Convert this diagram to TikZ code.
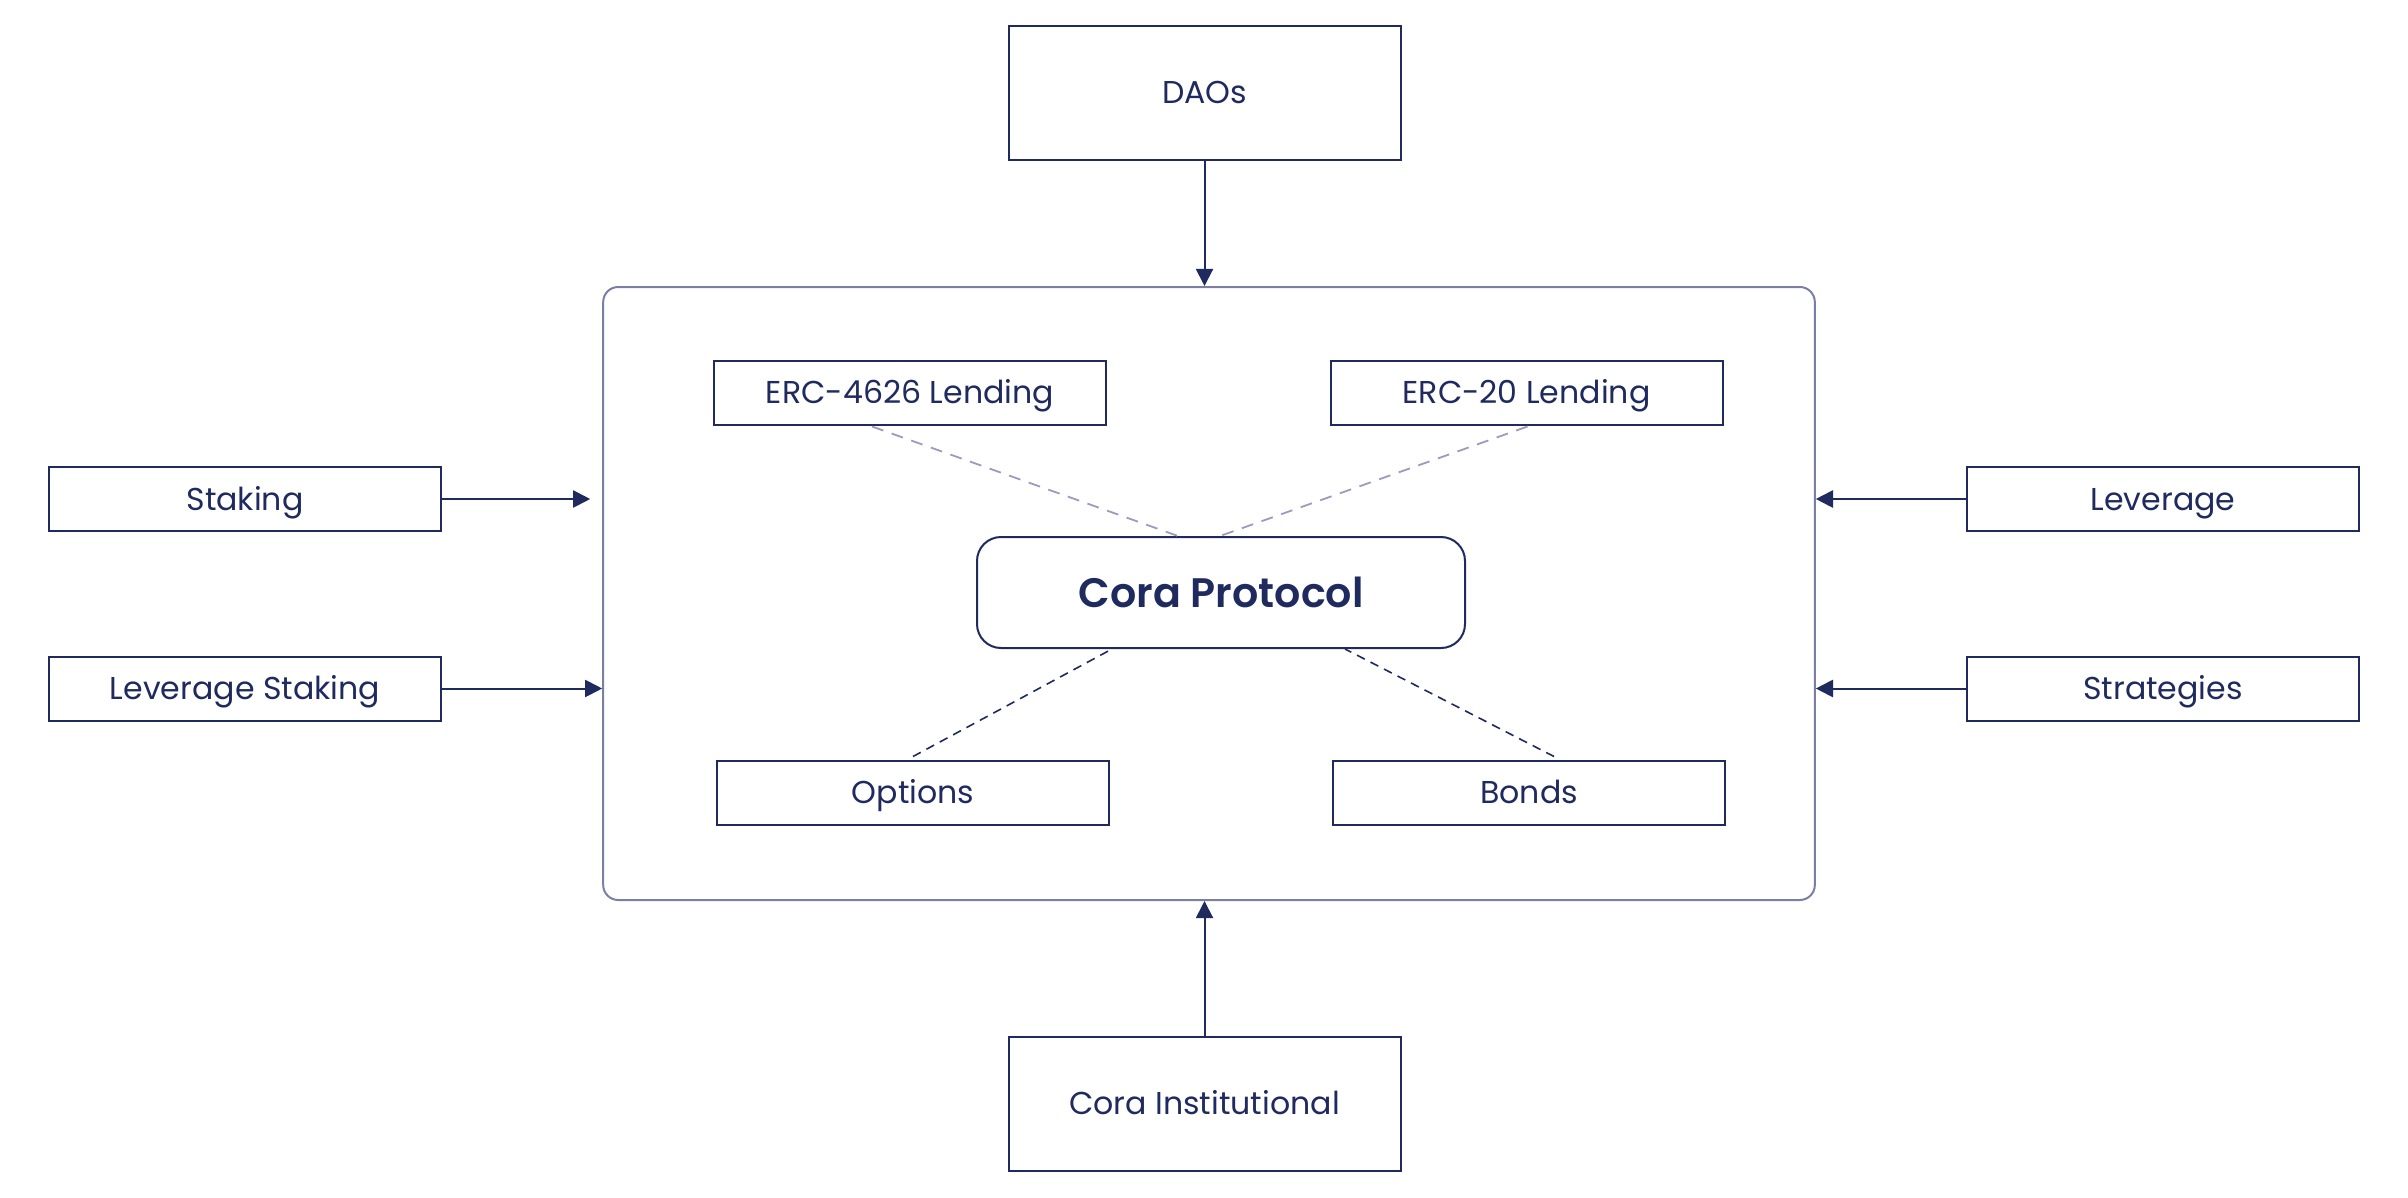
\documentclass[tikz,border=0pt]{standalone}
\usepackage{fontspec}
\setmainfont{Poppins}
\newfontfamily\corafont{Poppins SemiBold}
\usetikzlibrary{arrows.meta,calc}
\definecolor{navy}{HTML}{1F2A5E}
\definecolor{frame}{HTML}{7A7FA6}
\definecolor{lightdash}{HTML}{9A9BBD}
\tikzset{
  box/.style={draw=navy, line width=0.5pt, text=navy, font=\fontsize{7.9pt}{10pt}\selectfont,
    minimum width=98pt, minimum height=16pt, inner sep=0pt, text height=5.5pt, text depth=0pt},
  bigbox/.style={box, minimum height=33.5pt},
  arr/.style={draw=navy, line width=0.5pt, -{Triangle[length=4.3pt,width=4.3pt]}},
  dashlight/.style={draw=lightdash, line width=0.45pt, dash pattern=on 3pt off 2.2pt},
  dashdark/.style={draw=navy, line width=0.4pt, dash pattern=on 2.2pt off 1.6pt},
}
\begin{document}
\begin{tikzpicture}[x=0.25pt,y=-0.25pt]
\useasboundingbox (0,0) rectangle (2408,1198);
\node[draw=frame, line width=0.5pt, rounded corners=3.75pt, minimum width=302.9pt, minimum height=153.25pt, inner sep=0pt] (container) at (1209,593.5) {};
\node[bigbox] (daos) at (1204.5,93) {DAOs};
\node[bigbox] (inst) at (1204.5,1103.5) {Cora Institutional};
\node[box] (erc4626) at (910,392.5) {ERC-4626 Lending};
\node[box] (erc20) at (1526.5,392.5) {ERC-20 Lending};
\node[box] (options) at (913,792.5) {Options};
\node[box] (bonds) at (1529,792.5) {Bonds};
\node[box] (staking) at (245,499) {Staking};
\node[box] (levstaking) at (245,688.5) {Leverage Staking};
\node[box] (leverage) at (2163,499) {Leverage};
\node[box] (strategies) at (2163,688.5) {Strategies};
\node[draw=navy, line width=0.5pt, rounded corners=6pt, minimum width=122pt, minimum height=27.75pt, inner sep=0pt, text=navy, text height=7.4pt, text depth=0pt, font=\fontsize{10.3pt}{13pt}\selectfont\corafont] (cora) at (1221,592.5) {Cora Protocol};
% arrows
\draw[arr] (daos.south) -- (daos.south |- container.north);
\draw[arr] (inst.north) -- (inst.north |- container.south);
\draw[arr] (staking.east) -- ($(staking.east -| container.west)+(-12,0)$);
\draw[arr] (levstaking.east) -- (levstaking.east -| container.west);
\draw[arr] (leverage.west) -- (leverage.west -| container.east);
\draw[arr] (strategies.west) -- (strategies.west -| container.east);
% dashed connectors
\draw[dashlight] ($(erc4626.south)+(-38,1)$) -- ($(cora.north)+(-43,0)$);
\draw[dashlight] ($(erc20.south)+(1,1)$) -- ($(cora.north)+(-1,0)$);
\draw[dashdark] ($(options.north)+(0,-3)$) -- ($(cora.south)+(-109,0)$);
\draw[dashdark] ($(bonds.north)+(25,-3)$) -- ($(cora.south)+(124,0)$);
\end{tikzpicture}
\end{document}
